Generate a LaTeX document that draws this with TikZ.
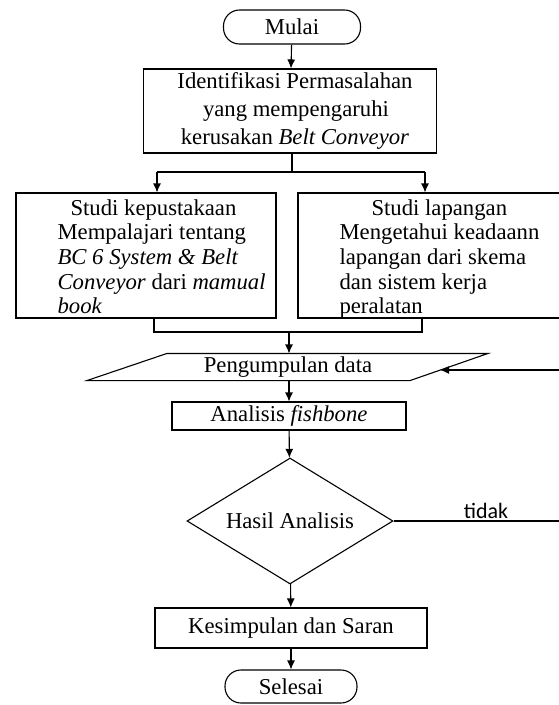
\documentclass[tikz,border=0pt]{standalone}
\usepackage{fontspec}
\setmainfont{Liberation Serif}
\newfontfamily\tidakfont{Carlito}
\usetikzlibrary{shapes.geometric,arrows.meta,calc}
\begin{document}
\begin{tikzpicture}[x=1pt,y=-1pt,>={Latex[length=9pt,width=8pt]},line width=1.1pt,
  font=\fontsize{22.7}{28}\selectfont,
  kotak/.style={draw,rectangle,inner sep=0pt,align=center},
  pil/.style={draw,rectangle,rounded corners=16pt,inner sep=0pt},
  putusan/.style={draw,diamond,inner sep=0pt,aspect=1.63},
  isi/.style={inner sep=0pt,align=left,anchor=north west,font=\fontsize{22.7}{24.6}\selectfont}]
\useasboundingbox (0,0) rectangle (559,705);
% blok atas
\node at (292,27) [pil,minimum width=137pt,minimum height=34pt] (mulai) {Mulai};
\node at (290,111) [kotak,minimum width=293pt,minimum height=84pt] (ident) {\hspace*{10pt}Identifikasi Permasalahan\\ \hspace*{12pt}yang mempengaruhi\\ \hspace*{10pt}kerusakan \textit{Belt Conveyor}};
% dua studi
\node at (146,255.5) [kotak,minimum width=260pt,minimum height=125pt] (pustaka) {};
\node at (57,199) [isi] (pustakatxt) {\hspace*{13pt}Studi kepustakaan\\ Mempalajari tentang\\ \textit{BC 6 System \& Belt}\\ \textit{Conveyor} dari \textit{mamual}\\ \textit{book}};
\node at (438,255.5) [kotak,minimum width=280pt,minimum height=125pt] (lapangan) {};
\node at (339,199) [isi] (lapangantxt) {\hspace*{32pt}Studi lapangan\\ Mengetahui keadaann\\ lapangan dari skema\\ dan sistem kerja\\ peralatan};
% data
\node at (288,367) [minimum width=321pt,minimum height=26pt,inner sep=0pt] (data) {Pengumpulan data};
\draw ($(data.north west)+(40,0)$)--($(data.north east)+(39,0)$)--($(data.south east)+(-39,0)$)--($(data.south west)+(-40,0)$)--cycle;
\node at (289,416) [kotak,minimum width=234pt,minimum height=28pt] (fishbone) {Analisis \textit{fishbone}};
\node at (290,521) [putusan,minimum width=206pt,minimum height=126pt] (hasil) {Hasil Analisis};
\node at (291,628) [kotak,minimum width=272pt,minimum height=40pt] (saran) {Kesimpulan dan Saran};
\node at (291,686.5) [pil,minimum width=132pt,minimum height=33pt] (selesai) {Selesai};
% titik bantu
\coordinate (pisah) at (292,172);
\coordinate (pisahkiri) at (157,172);
\coordinate (pisahkanan) at (425,172);
\coordinate (gabungkiri) at (154,332);
\coordinate (gabungkanan) at (422,332);
\coordinate (gabung) at (289,332);
\coordinate (balikbawah) at (566,521);
\coordinate (balikatas) at (566,370);
% panah
\draw[->] (mulai)--(ident);
\draw (ident.south-|pisah)--(pisah);
\draw (pisahkiri)--(pisahkanan);
\draw[->] (pisahkiri)--(pisahkiri|-pustaka.north);
\draw[->] (pisahkanan)--(pisahkanan|-lapangan.north);
\draw (gabungkiri|-pustaka.south)--(gabungkiri)--(gabungkanan)--(gabungkanan|-lapangan.south);
\draw[->] (gabung)--(gabung|-data.north);
\draw[->] (data.south-|fishbone)--(fishbone);
\draw[->] (fishbone)--(hasil);
\draw[->] (hasil)--(saran);
\draw[->] (saran)--(selesai);
\draw[->] (hasil.east)--(balikbawah)--(balikatas)--($(data.east)+(-9,3)$);
\node at (486,511) [font=\tidakfont\fontsize{22}{24}\selectfont] (tidak) {tidak};
\end{tikzpicture}
\end{document}
